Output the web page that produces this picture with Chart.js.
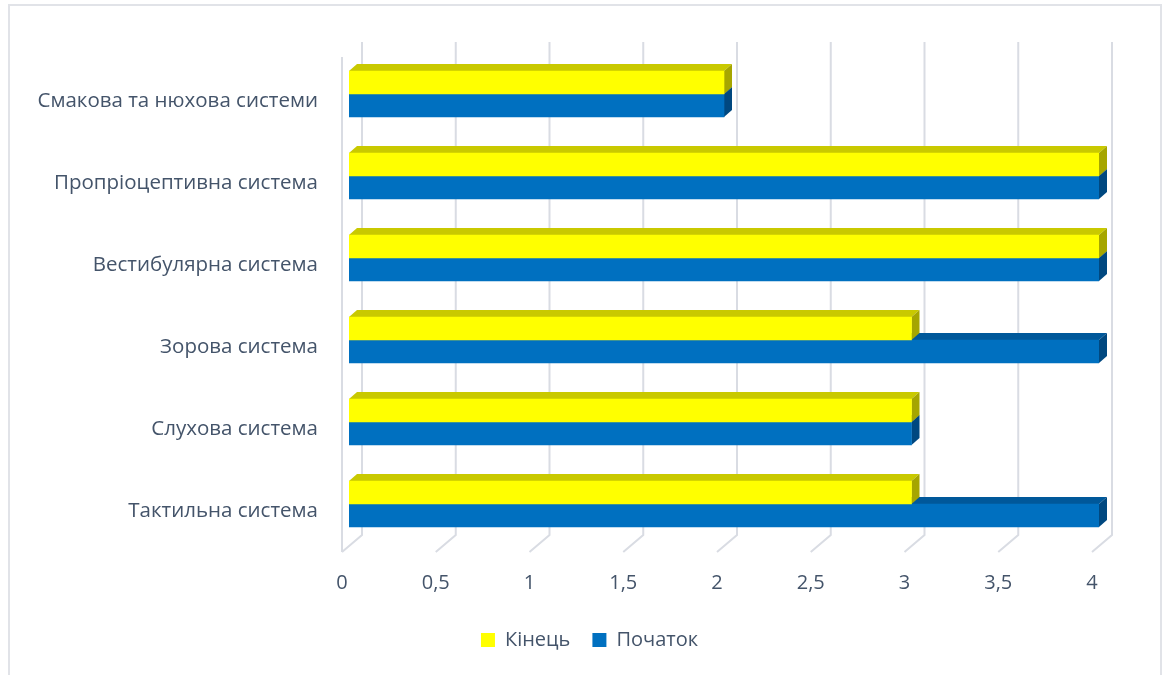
<!DOCTYPE html>
<html>
<head>
<meta charset="utf-8">
<script src="https://cdn.jsdelivr.net/npm/chart.js@4/dist/chart.umd.min.js"></script>
<style>
  html,body{margin:0;padding:0;background:#fff;}
  #wrap{position:relative;width:1165px;height:675px;}
</style>
</head>
<body>
<div id="wrap"><canvas id="c" width="1165" height="675"></canvas></div>
<script>
const categories = ['Смакова та нюхова системи','Пропріоцептивна система','Вестибулярна система','Зорова система','Слухова система','Тактильна система'];
const seriesNames = ['Кінець','Початок'];
const endValues = [2, 4, 4, 3, 3, 3];
const startValues = [2, 4, 4, 4, 3, 4];
const xTicks = [0, 0.5, 1, 1.5, 2, 2.5, 3, 3.5, 4];

const FONT = '"Open Sans", "Noto Sans", sans-serif';
const FS = 20;
const TEXT = '#44546A';
const GRID = '#d9dce3';
const faceColors = [
  {front:'#FFFF00', top:'#C9C900', side:'#A6A600'},
  {front:'#0070C0', top:'#00589A', side:'#004880'}
];
const DX = 8, DY = 7;

const threeD = {
  id: 'threeD',
  afterLayout(chart) {
    if (chart.legend) {
      chart.legend.left += 40;
      chart.legend.right += 40;
    }
  },
  beforeDraw(chart) {
    const ctx = chart.ctx;
    ctx.save();
    ctx.strokeStyle = '#e1e3e8';
    ctx.lineWidth = 2;
    ctx.strokeRect(9, 5, 1152, 700);
    ctx.restore();
  },
  beforeDatasetsDraw(chart) {
    const ctx = chart.ctx;
    const xs = chart.scales.x;
    const a = chart.chartArea;
    ctx.save();
    ctx.strokeStyle = GRID;
    ctx.lineWidth = 2;
    ctx.beginPath();
    ctx.moveTo(xs.getPixelForValue(0) - 7, a.top + 4);
    ctx.lineTo(xs.getPixelForValue(0) - 7, a.bottom + 7);
    ctx.stroke();
    xTicks.forEach(v => {
      const px = xs.getPixelForValue(v);
      ctx.beginPath();
      ctx.moveTo(px + 13, a.top - 11);
      ctx.lineTo(px + 13, a.bottom - 10);
      ctx.lineTo(px - 7, a.bottom + 7);
      ctx.stroke();
    });
    for (let d = chart.data.datasets.length - 1; d >= 0; d--) {
      const meta = chart.getDatasetMeta(d);
      const col = faceColors[d];
      meta.data.forEach(bar => {
        const p = bar.getProps(['x','y','base','height'], true);
        const x0 = p.base, x1 = p.x;
        const yT = p.y - p.height / 2, yB = p.y + p.height / 2;
        ctx.fillStyle = col.top;
        ctx.beginPath();
        ctx.moveTo(x0, yT);
        ctx.lineTo(x0 + DX, yT - DY);
        ctx.lineTo(x1 + DX, yT - DY);
        ctx.lineTo(x1, yT);
        ctx.closePath();
        ctx.fill();
        ctx.fillStyle = col.side;
        ctx.beginPath();
        ctx.moveTo(x1, yT);
        ctx.lineTo(x1 + DX, yT - DY);
        ctx.lineTo(x1 + DX, yB - DY);
        ctx.lineTo(x1, yB);
        ctx.closePath();
        ctx.fill();
      });
    }
    ctx.restore();
  }
};

new Chart(document.getElementById('c'), {
  type: 'bar',
  data: {
    labels: categories,
    datasets: [
      {label: seriesNames[0], data: endValues, backgroundColor: faceColors[0].front, borderWidth: 0, barThickness: 23},
      {label: seriesNames[1], data: startValues, backgroundColor: faceColors[1].front, borderWidth: 0, barThickness: 23}
    ]
  },
  options: {
    indexAxis: 'y',
    responsive: false,
    devicePixelRatio: 1,
    animation: false,
    layout: {padding: {left: 0, right: 66, top: 53, bottom: 15}},
    scales: {
      x: {
        type: 'linear', min: 0, max: 4,
        grid: {display: false, drawTicks: false},
        border: {display: false},
        afterBuildTicks(s) { s.ticks = xTicks.map(v => ({value: v})); },
        afterFit(s) { s.height = 63; },
        ticks: {
          stepSize: 0.5, padding: 26, labelOffset: -7,
          color: TEXT, font: {family: FONT, size: FS},
          callback: v => String(v).replace('.', ',')
        }
      },
      y: {
        grid: {display: false, drawTicks: false},
        border: {display: false},
        afterFit(s) { s.width = 349; },
        ticks: {padding: 31, labelOffset: 7, color: TEXT, font: {family: FONT, size: 20.5}}
      }
    },
    plugins: {
      legend: {
        position: 'bottom',
        labels: {boxWidth: 14, boxHeight: 14, padding: 22, color: TEXT, font: {family: FONT, size: FS}}
      },
      tooltip: {enabled: false}
    }
  },
  plugins: [threeD]
});
</script>
</body>
</html>
